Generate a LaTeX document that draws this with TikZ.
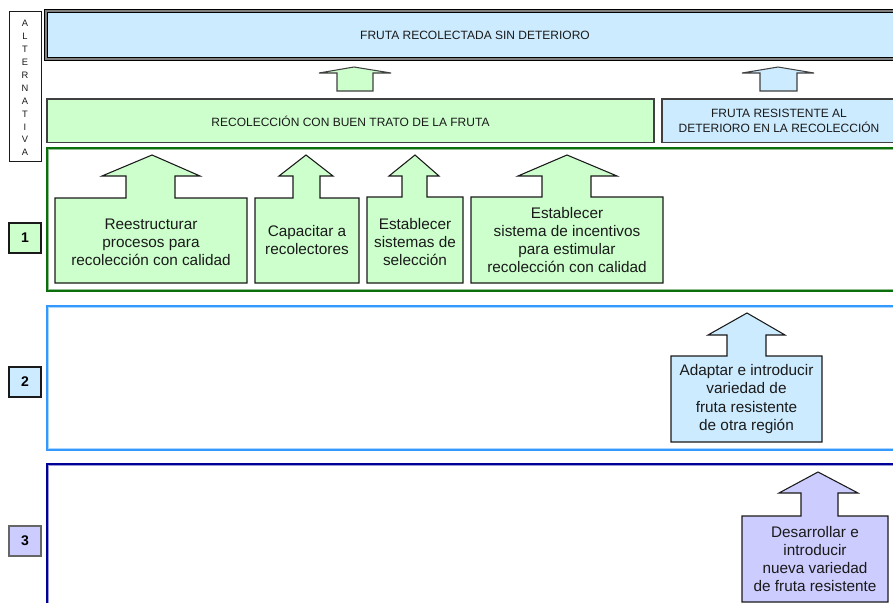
\documentclass[tikz,border=0pt]{standalone}
\usepackage{fontspec}
\setmainfont{Liberation Sans}
\definecolor{lgreen}{HTML}{CCFFCC}
\definecolor{lblue}{HTML}{CCEBFF}
\definecolor{lviolet}{HTML}{CCCCFF}
\definecolor{dgreen}{HTML}{0A6E0A}
\definecolor{mblue}{HTML}{3399FF}
\definecolor{dblue}{HTML}{000099}
\definecolor{ink}{HTML}{1A1A1A}
\tikzset{
  bigtxt/.style={font=\fontsize{11.5}{13.6}\selectfont, align=center, text=ink},
  smalltxt/.style={font=\fontsize{9}{11.2}\selectfont, align=center, text=ink},
  arrowshape/.style={draw=ink, line width=0.8pt, line join=miter},
  bar/.style={draw=black!75, line width=0.8pt},
  numbox/.style={draw=ink, line width=0.8pt, minimum width=24pt, minimum height=22.5pt, inner sep=0pt, font=\bfseries\fontsize{10.5}{12}\selectfont},
  panel/.style={line width=1.5pt},
}
\begin{document}
\begin{tikzpicture}[x=0.75pt,y=-0.75pt]
\useasboundingbox (0,0) rectangle (893,603);
\clip (0,0) rectangle (893,603);

% ALTERNATIVA column
\draw[line width=0.6pt, draw=ink] (9,11) rectangle (41,161);
\node[font=\fontsize{7}{9.7}\selectfont, align=center, text=ink] (alt) at (25,88)
  {A\\L\\T\\E\\R\\N\\A\\T\\I\\V\\A};

% top goal box
\draw[fill=lblue, draw=black, line width=0.6pt, double=black!50, double distance=1.4pt] (46,11) rectangle (897,59);
\node[smalltxt] (goal) at (475,35) {FRUTA RECOLECTADA SIN DETERIORO};

% top arrows
\draw[arrowshape, draw=black!75, fill=lgreen] (337,91) -- (337,73) -- (319,73) -- (354,67) -- (391,73) -- (373,73) -- (373,91) -- cycle;
\draw[arrowshape, draw=black!75, fill=lblue] (760,91) -- (760,73) -- (742,73) -- (778,67) -- (814,73) -- (797,73) -- (797,91) -- cycle;

% second level boxes
\draw[bar, fill=lgreen] (47,99) rectangle (654,142.5);
\node[smalltxt] (reco) at (350.5,121) {RECOLECCIÓN CON BUEN TRATO DE LA FRUTA};
\draw[bar, fill=lblue] (662,99) rectangle (897,142.5);
\node[smalltxt] (resis) at (779,121) {FRUTA RESISTENTE AL\\DETERIORO EN LA RECOLECCIÓN};

% panels
\draw[panel, draw=dgreen] (47,148) rectangle (897,291);
\draw[line width=0.5pt, draw=dgreen!45] (48.8,149.8) rectangle (897,289.2);
\draw[panel, draw=mblue] (47,306) rectangle (897,450);
\draw[line width=0.5pt, draw=mblue!40] (48.8,307.8) rectangle (897,448.2);
\draw[panel, draw=dblue] (47,464) rectangle (897,620);
\draw[line width=0.5pt, draw=dblue!40] (48.8,465.8) rectangle (897,620);

% number labels
\node[numbox, fill=lgreen] (n1) at (25,238) {1};
\node[numbox, fill=lblue] (n2) at (25,382) {2};
\node[numbox, fill=lviolet, draw=black!60] (n3) at (25,541) {3};

% row 1 block arrows
\draw[arrowshape, fill=lgreen] (55,283) -- (55,198) -- (126,198) -- (126,176) -- (102,176) -- (152,155) -- (200,176) -- (175,176) -- (175,198) -- (247,198) -- (247,283) -- cycle;
\node[bigtxt] (a1) at (151,242) {Reestructurar\\procesos para\\recolección con calidad};

\draw[arrowshape, fill=lgreen] (255,283) -- (255,198) -- (293,198) -- (293,176) -- (279,176) -- (306,155) -- (333,176) -- (320,176) -- (320,198) -- (359,198) -- (359,283) -- cycle;
\node[bigtxt] (a2) at (307,240) {Capacitar a\\recolectores};

\draw[arrowshape, fill=lgreen] (367,283) -- (367,197) -- (402,197) -- (402,176) -- (389,176) -- (415,155) -- (439,176) -- (427,176) -- (427,197) -- (463,197) -- (463,283) -- cycle;
\node[bigtxt] (a3) at (415,242) {Establecer\\sistemas de\\selección};

\draw[arrowshape, fill=lgreen] (471,283) -- (471,197) -- (542,197) -- (542,176) -- (518,176) -- (567,155) -- (617,176) -- (591,176) -- (591,197) -- (663,197) -- (663,283) -- cycle;
\node[bigtxt] (a4) at (567,240) {Establecer\\sistema de incentivos\\para estimular\\recolección con calidad};

% row 2 block arrow
\draw[arrowshape, fill=lblue] (671,442) -- (671,356) -- (727,356) -- (727,335) -- (708,335) -- (747,313) -- (785,335) -- (766,335) -- (766,356) -- (822,356) -- (822,442) -- cycle;
\node[bigtxt] (b1) at (746.5,399) {Adaptar e introducir\\variedad de\\fruta resistente\\de otra región};

% row 3 block arrow
\draw[arrowshape, fill=lviolet] (742,602) -- (742,516) -- (801,516) -- (801,493) -- (779,493) -- (818,472) -- (858,493) -- (838,493) -- (838,516) -- (888,516) -- (888,602) -- cycle;
\node[bigtxt] (c1) at (815,559) {Desarrollar e\\introducir\\nueva variedad\\de fruta resistente};
\end{tikzpicture}
\end{document}
